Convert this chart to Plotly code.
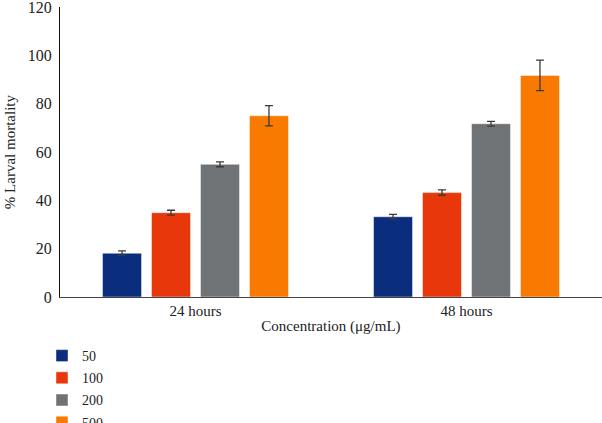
import plotly.graph_objects as go

periods = ["24 hours", "48 hours"]
concentrations = ["50", "100", "200", "500"]
mortality = {
    "50": [18.1, 33.2],
    "100": [34.9, 43.2],
    "200": [54.9, 71.7],
    "500": [75.0, 91.7],
}
errors = {
    "50": [1.0, 1.0],
    "100": [1.0, 1.1],
    "200": [1.0, 1.0],
    "500": [4.2, 6.3],
}
colors = {"50": "#0a2d7e", "100": "#e8380b", "200": "#707376", "500": "#f97a00"}

fig = go.Figure()
for c in concentrations:
    fig.add_trace(go.Bar(
        x=periods, y=mortality[c], name=c, legendgroup=c,
        marker=dict(color=colors[c], line=dict(color="rgba(255,255,255,0.45)", width=1)),
        error_y=dict(type="data", array=errors[c], color="#3a3a3a", thickness=1.3, width=4),
    ))

font = "Liberation Serif, Times New Roman, serif"
fig.update_layout(
    width=602, height=423,
    margin=dict(l=60, r=0, t=7, b=126, autoexpand=False),
    paper_bgcolor="white", plot_bgcolor="white",
    font=dict(family=font, size=16, color="#222"),
    barmode="group", bargap=0.277, bargroupgap=0.204,
    showlegend=True,
    legend=dict(xref="container", yref="container", x=42/602, y=1 - 340/423,
                xanchor="left", yanchor="top", font=dict(size=14),
                itemwidth=30, tracegroupgap=1, bgcolor="rgba(0,0,0,0)"),
)
# y title as annotation so it sits at the left edge
fig.add_annotation(text="% Larval mortality", xref="paper", yref="paper",
                   x=-0.092, y=0.5, textangle=-90, showarrow=False,
                   xanchor="center", yanchor="middle", font=dict(size=15))
fig.update_xaxes(showline=True, linecolor="#444", linewidth=1.2, ticks="",
                 tickfont=dict(size=15),
                 title=dict(text="Concentration (μg/mL)", standoff=2, font=dict(size=15)))
fig.update_yaxes(range=[0, 120], dtick=20, showgrid=False, zeroline=False,
                 showline=True, linecolor="#111", linewidth=1.2, ticks="",
                 tickfont=dict(size=16), ticklabeloverflow="allow", ticklabelstandoff=4)

fig.write_html("out.html", config={"displayModeBar": False},
               post_script="document.body.style.margin='0';")
